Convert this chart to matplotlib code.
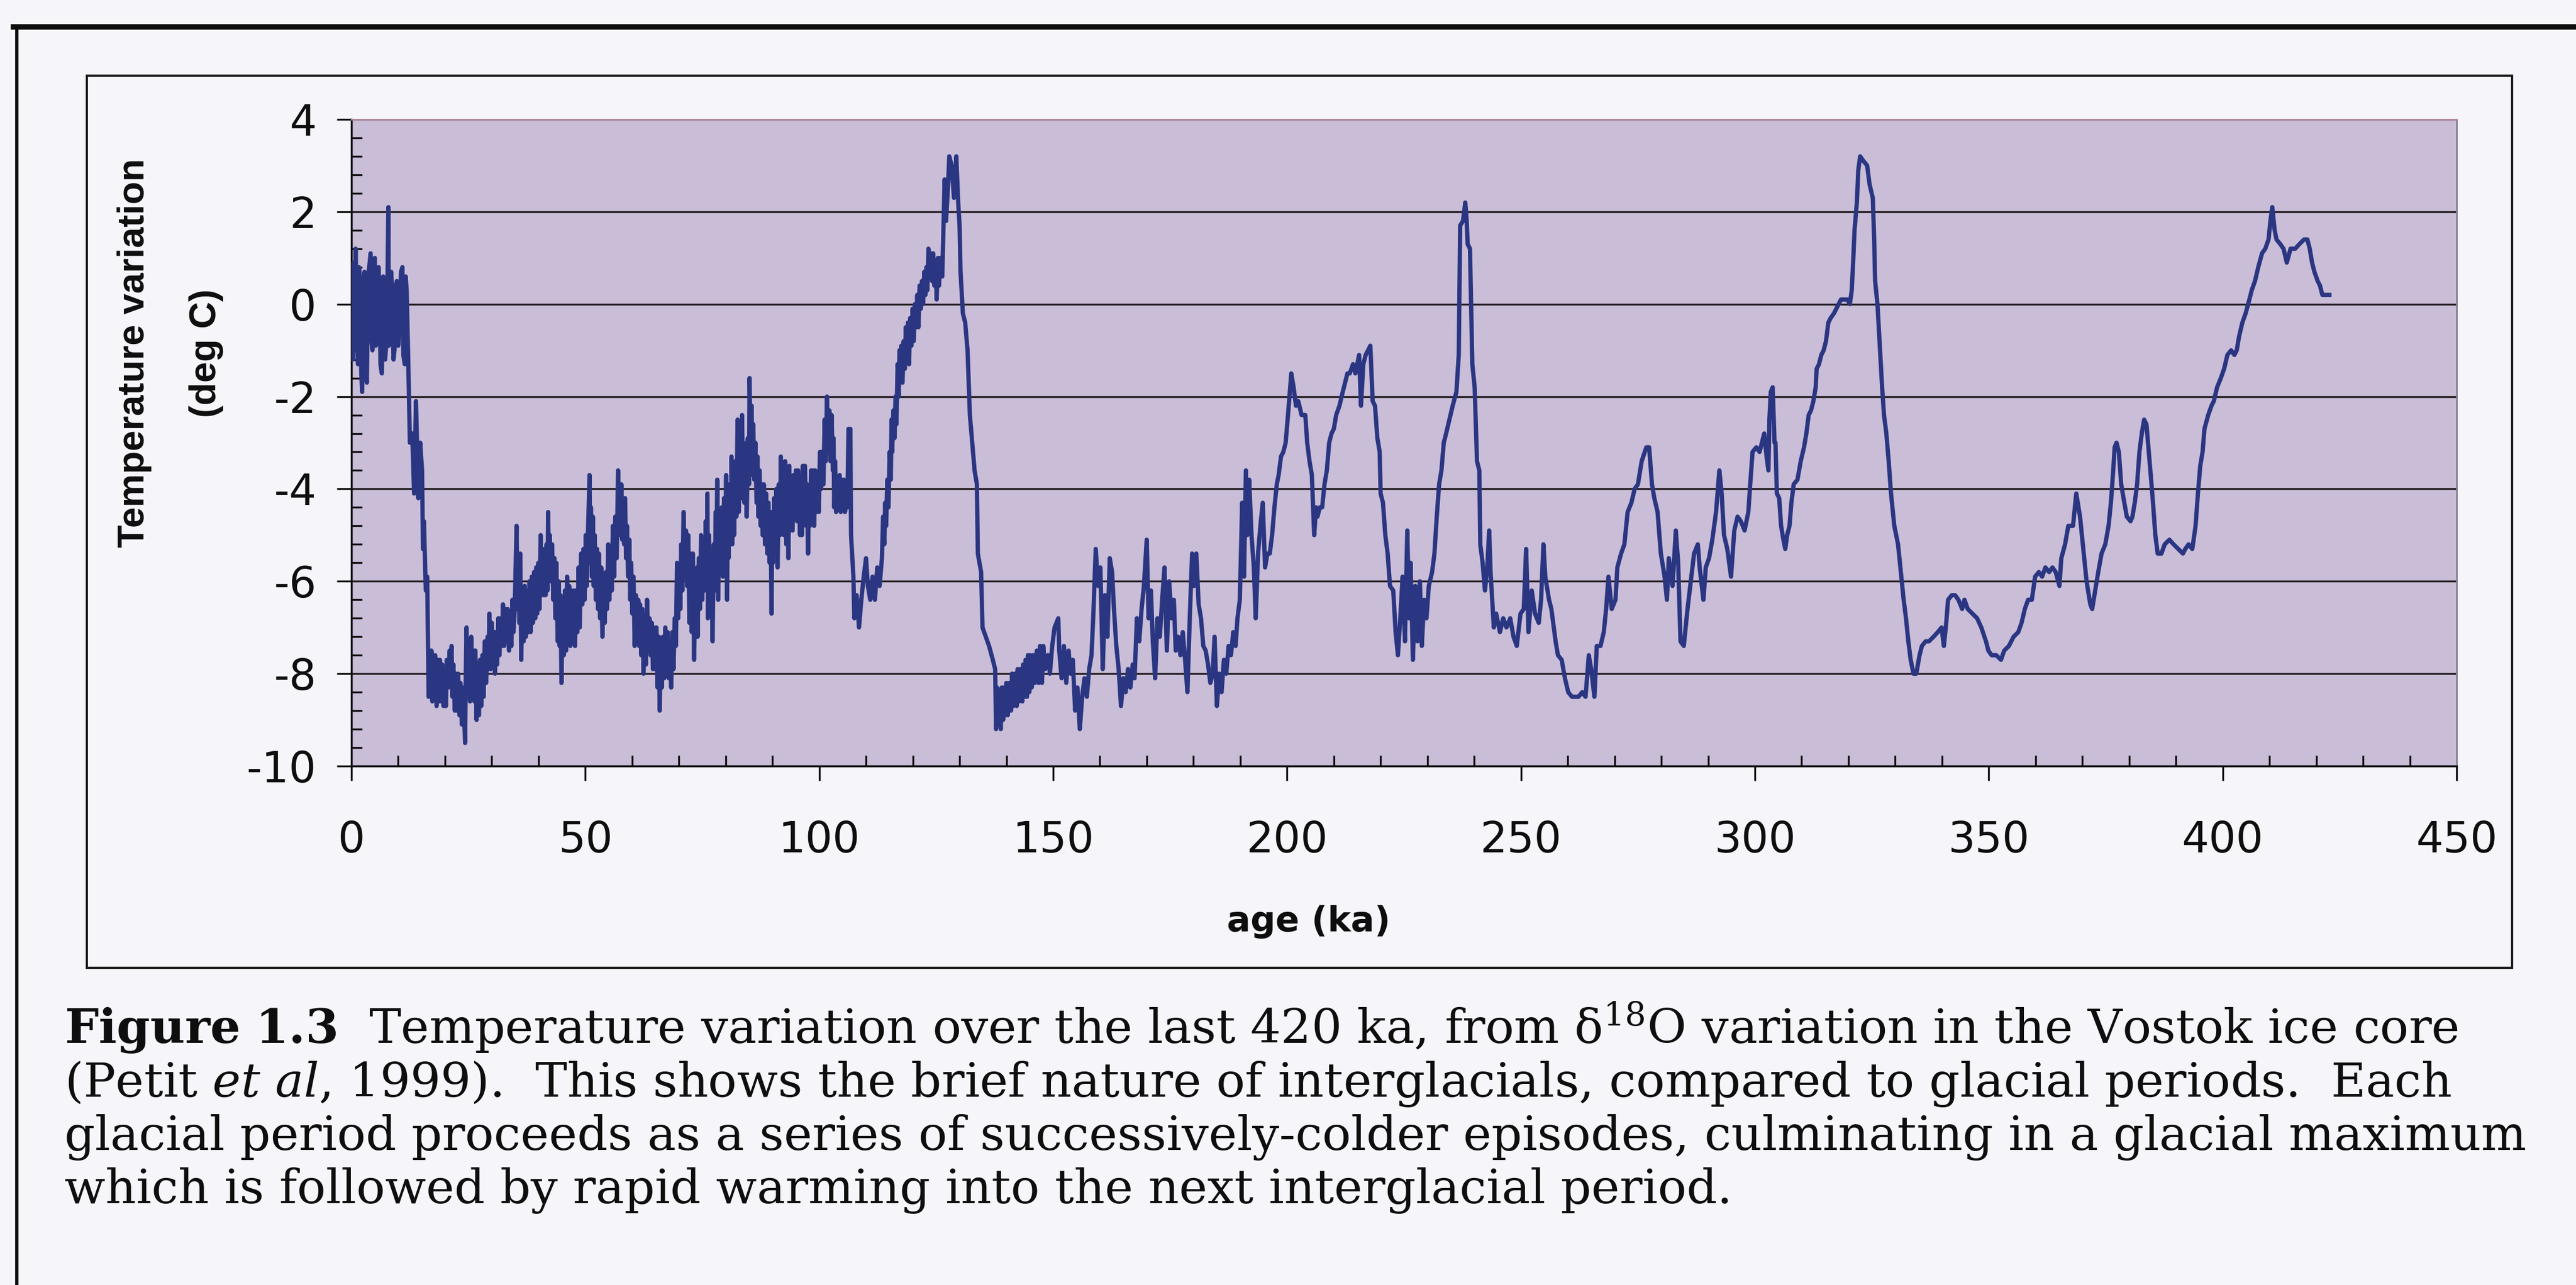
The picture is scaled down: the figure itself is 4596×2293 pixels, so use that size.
import matplotlib
matplotlib.use("Agg")
import matplotlib.pyplot as plt
from matplotlib.ticker import MultipleLocator
from matplotlib.patches import Rectangle
from matplotlib.lines import Line2D

# ---------------------------------------------------------------------------
# Vostok temperature record (age in ka, temperature anomaly in deg C)
# ---------------------------------------------------------------------------
seg_000_074 = [
    (0.1, 0.3), (0.3, -1.2), (0.5, 0.9), (0.7, -1.0), (0.9, 1.2), (1.1, -0.4), (1.4, -1.3), (1.6, 0.8),
    (1.9, 0.5), (2.1, -1.5), (2.3, -1.9), (2.5, 0.2), (2.8, 0.7), (3.0, -1.1), (3.3, -1.7), (3.6, 0.6),
    (4.1, 1.1), (4.3, -0.8), (4.5, -1.0), (4.8, 0.9), (5.0, 1.0), (5.2, -0.9), (5.5, -0.6), (5.8, 0.8),
    (6.0, 0.3), (6.2, -1.3), (6.5, -1.5), (6.8, 0.6), (7.0, 0.5), (7.2, -1.2), (7.5, -0.8), (7.7, 0.4),
    (7.9, 2.1), (8.0, -0.9), (8.2, -0.6), (8.5, 0.7), (8.7, 0.3), (9.0, -1.2), (9.2, -1.0), (9.5, 0.4),
    (9.7, 0.5), (10.0, -0.9), (10.2, -0.6), (10.6, 0.7), (10.9, 0.8), (11.1, -1.1), (11.4, -1.3),
    (11.6, 0.6), (11.8, 0.3), (12.1, -1.0),
    (12.5, -3.0), (13.0, -2.8), (13.4, -4.1), (13.8, -2.1), (14.3, -4.2), (14.7, -3.0), (15.1, -3.6),
    (15.3, -5.3), (15.5, -4.7), (15.9, -6.2), (16.2, -5.9),
    (16.5, -8.5), (16.7, -7.6), (16.9, -8.4), (17.1, -7.5), (17.3, -8.6), (17.5, -7.7), (17.7, -8.5),
    (17.9, -7.6), (18.2, -8.7), (18.4, -7.7), (18.7, -8.6), (18.9, -7.7), (19.2, -8.6), (19.4, -7.8),
    (19.7, -8.7), (19.9, -7.9), (20.2, -8.7), (20.4, -7.7), (20.7, -8.3), (21.0, -7.5), (21.2, -8.2),
    (21.4, -7.4), (21.6, -8.5), (21.8, -7.8), (22.1, -8.8), (22.3, -8.0), (22.6, -8.8), (22.8, -8.0),
    (23.1, -8.9), (23.3, -8.2), (23.6, -9.1), (23.8, -8.3), (24.1, -8.9), (24.3, -9.5), (24.45, -8.0),
    (24.6, -7.0), (24.85, -8.2), (25.1, -7.3), (25.35, -8.6), (25.6, -7.2), (25.85, -8.4), (26.1, -7.5),
    (26.3, -8.6), (26.5, -7.5), (26.75, -9.0), (27.0, -7.9), (27.25, -8.9), (27.5, -7.7), (27.75, -8.7),
    (28.0, -7.6), (28.25, -8.5), (28.5, -7.3), (28.8, -8.2), (29.1, -7.2), (29.3, -7.9), (29.5, -6.7),
    (29.75, -7.9), (30.0, -6.9), (30.25, -7.7), (30.5, -7.1), (30.7, -8.0), (30.9, -7.1), (31.15, -7.8),
    (31.4, -6.8), (31.65, -7.6), (31.9, -6.8), (32.15, -7.4), (32.4, -6.5), (32.65, -7.4), (32.9, -6.6),
    (33.15, -7.3), (33.4, -6.6), (33.7, -7.5), (34.0, -6.7), (34.2, -7.4), (34.4, -6.4), (34.65, -7.1),
    (34.9, -6.6),
    (35.3, -4.8), (35.5, -6.6), (35.7, -5.6), (35.9, -6.9), (36.1, -5.4), (36.3, -7.7), (36.55, -6.2),
    (36.8, -7.3), (37.05, -6.1), (37.3, -7.2), (37.55, -6.2), (37.8, -7.1), (38.05, -6.0), (38.3, -7.1),
    (38.55, -5.9), (38.8, -6.9), (39.05, -5.8), (39.3, -6.8), (39.5, -5.7), (39.7, -6.7), (39.95, -5.6),
    (40.2, -6.6), (40.45, -5.0), (40.7, -6.3), (40.9, -5.3), (41.1, -6.3), (41.3, -5.4), (41.5, -6.3),
    (41.7, -5.2), (41.9, -6.2), (42.05, -4.5), (42.2, -5.8), (42.4, -5.0), (42.6, -6.0), (42.9, -5.2),
    (43.15, -6.4), (43.4, -5.5), (43.6, -6.8), (43.8, -5.6), (44.1, -7.3), (44.3, -6.0), (44.5, -7.4),
    (44.7, -6.3), (44.9, -8.2), (45.15, -6.5), (45.4, -7.6), (45.65, -6.2), (45.9, -7.5), (46.1, -5.9),
    (46.3, -7.2), (46.55, -6.1), (46.8, -7.4), (47.05, -6.2), (47.3, -7.3), (47.55, -6.2), (47.8, -7.4),
    (48.05, -6.2), (48.3, -7.1), (48.55, -5.7), (48.8, -7.0), (49.1, -5.4), (49.35, -6.5), (49.6, -5.3),
    (49.85, -6.4), (50.1, -5.0), (50.3, -6.1), (50.5, -5.2),
    (50.9, -3.7), (51.05, -5.6), (51.2, -4.4), (51.4, -5.9), (51.6, -4.6), (51.8, -6.1), (52.0, -5.0),
    (52.25, -6.4), (52.5, -5.3), (52.7, -6.6), (52.9, -5.4), (53.15, -6.8), (53.4, -5.7), (53.65, -7.2),
    (53.9, -5.9), (54.15, -6.9), (54.4, -5.8), (54.65, -6.6), (54.9, -5.2), (55.15, -6.4), (55.4, -5.3),
    (55.65, -6.2), (55.9, -4.8), (56.15, -5.9), (56.4, -4.6), (56.7, -5.5), (57.0, -3.6), (57.15, -4.9),
    (57.3, -4.1), (57.5, -5.0), (57.7, -3.9), (57.9, -5.1), (58.1, -4.3), (58.3, -5.2), (58.5, -4.2),
    (58.7, -5.5), (58.9, -4.8), (59.15, -5.9), (59.4, -5.1), (59.6, -6.4), (59.8, -5.6), (60.05, -6.7),
    (60.3, -5.9), (60.55, -7.4), (60.8, -6.3), (61.05, -7.3), (61.3, -6.4), (61.5, -7.4), (61.7, -6.5),
    (61.95, -7.6), (62.2, -6.6), (62.45, -8.0), (62.7, -6.9), (62.95, -7.8), (63.2, -6.4), (63.45, -7.5),
    (63.7, -6.8), (63.95, -7.6), (64.2, -6.9), (64.45, -7.9), (64.7, -7.0), (64.95, -7.9), (65.2, -7.0),
    (65.45, -8.3), (65.7, -7.2), (65.9, -8.8), (66.1, -7.4), (66.35, -8.3), (66.6, -7.2), (66.85, -8.1),
    (67.1, -7.0), (67.35, -8.0), (67.6, -7.1), (67.85, -8.1), (68.1, -7.3), (68.35, -8.3), (68.6, -7.1),
    (68.85, -7.9), (69.1, -6.8), (69.35, -7.4), (69.6, -5.6), (69.85, -6.8), (70.1, -5.7), (70.3, -6.6),
    (70.5, -5.2), (70.75, -6.2), (71.0, -4.5), (71.25, -5.9), (71.5, -4.9), (71.75, -6.1), (72.0, -5.0),
    (72.25, -6.9), (72.5, -5.4), (72.75, -7.1), (73.0, -5.4), (73.25, -7.7), (73.5, -5.9), (73.7, -7.2),
    (73.9, -5.7),
]

seg_074_149 = [
    (74.0, -7.2), (74.25, -5.5), (74.5, -6.6), (74.75, -5.0), (75.0, -6.4), (75.25, -5.1), (75.5, -6.2),
    (75.75, -4.7), (76.0, -6.0), (76.1, -4.1), (76.2, -6.8), (76.45, -5.0), (76.7, -6.6), (76.95, -5.4),
    (77.2, -7.3), (77.45, -5.2), (77.7, -6.2), (77.85, -4.5), (78.0, -5.7), (78.2, -3.8), (78.4, -6.4),
    (78.65, -4.5), (78.9, -5.8), (79.15, -4.4), (79.4, -5.9), (79.65, -4.2), (79.9, -5.5), (80.1, -3.7),
    (80.3, -6.4), (80.45, -4.3), (80.6, -5.5), (80.85, -3.9), (81.1, -5.2), (81.25, -3.3), (81.4, -5.2),
    (81.6, -3.9), (81.8, -5.0), (82.05, -3.4), (82.3, -4.6), (82.55, -2.5), (82.8, -4.5), (83.05, -3.0),
    (83.3, -4.2), (83.5, -2.4), (83.7, -3.9), (83.85, -3.0), (84.0, -4.3), (84.25, -3.2), (84.5, -4.6),
    (84.75, -2.9), (85.0, -3.9), (85.1, -1.6), (85.4, -3.7), (85.55, -2.2), (85.7, -3.6), (85.9, -2.6),
    (86.1, -3.8), (86.35, -3.0), (86.6, -4.3), (86.8, -3.3), (87.0, -4.6), (87.25, -3.6), (87.5, -4.8),
    (87.7, -3.9), (87.9, -5.0), (88.15, -3.9), (88.4, -5.2), (88.65, -4.1), (88.9, -5.4), (89.15, -4.3),
    (89.4, -5.6), (89.6, -4.5), (89.8, -6.7), (89.95, -4.9), (90.1, -5.6), (90.35, -4.2), (90.6, -5.3),
    (90.85, -4.0), (91.1, -5.7), (91.35, -3.9), (91.6, -5.0), (91.8, -3.3), (92.0, -4.9), (92.2, -3.8),
    (92.45, -5.0), (92.7, -3.4), (92.95, -5.2), (93.2, -3.7), (93.4, -5.5), (93.6, -3.5), (93.85, -4.9),
    (94.1, -3.8), (94.3, -4.9), (94.5, -3.7), (94.75, -4.6), (95.0, -3.6), (95.25, -4.7), (95.5, -3.6),
    (95.9, -5.0), (96.1, -3.7), (96.3, -5.0), (96.5, -3.5), (96.7, -4.6), (96.95, -3.5), (97.2, -4.8),
    (97.4, -3.9), (97.6, -5.4), (97.8, -4.0), (98.0, -4.8), (98.25, -3.6), (98.5, -4.6), (98.7, -3.6),
    (98.9, -4.8), (99.15, -3.6), (99.4, -4.5), (99.65, -3.8), (99.9, -4.5), (100.15, -3.2), (100.4, -4.0),
    (100.65, -3.2), (100.9, -3.9), (101.15, -2.5), (101.4, -3.4), (101.65, -2.0), (101.9, -3.1),
    (102.15, -2.3), (102.4, -3.4), (102.65, -2.4), (102.9, -3.6), (103.05, -2.9), (103.2, -4.4),
    (103.4, -3.4), (103.6, -4.5), (103.85, -3.8), (104.1, -4.4), (104.35, -3.7), (104.6, -4.5),
    (104.85, -3.8), (105.1, -4.4), (105.3, -3.8), (105.5, -4.5), (105.75, -3.9), (106.0, -4.4),
    (106.25, -2.7), (106.5, -3.8), (106.65, -2.7), (106.8, -5.0),
    (107.3, -5.9), (107.5, -6.8), (108.0, -6.3), (108.5, -7.0), (109.0, -6.4), (109.5, -5.9), (110.0, -5.5),
    (110.4, -6.1), (110.9, -6.4), (111.4, -5.9), (111.9, -6.4), (112.4, -5.7), (112.9, -6.1),
    (113.4, -5.5), (113.65, -4.6), (113.9, -5.2), (114.1, -4.3), (114.3, -4.8), (114.55, -3.8), (114.8, -4.4),
    (115.05, -3.2), (115.3, -3.8), (115.45, -2.5), (115.6, -3.2), (115.85, -2.3), (116.1, -2.9),
    (116.3, -2.0), (116.5, -2.6), (116.75, -1.3), (117.0, -2.0), (117.15, -1.0), (117.3, -1.6),
    (117.55, -0.9), (117.8, -1.7), (118.05, -0.8), (118.3, -1.4), (118.5, -0.5), (118.7, -1.2),
    (118.95, -0.4), (119.2, -1.3), (119.45, -0.3), (119.7, -0.9), (119.95, -0.1), (120.2, -0.8),
    (120.45, 0.0), (120.7, -0.5), (120.95, 0.2), (121.2, -0.5), (121.45, 0.4), (121.7, -0.1), (121.95, 0.5),
    (122.2, 0.0), (122.45, 0.7), (122.7, 0.2), (122.9, 0.8), (123.1, 0.3), (123.35, 1.2), (123.6, 0.6),
    (123.85, 1.1), (124.1, 0.5), (124.35, 1.1), (124.6, 0.4), (124.85, 0.9), (125.1, 0.1), (125.35, 1.0),
    (125.6, 0.4), (125.95, 1.0), (126.3, 0.6),
    (126.8, 2.7), (127.1, 1.8), (127.5, 2.5), (127.8, 3.2), (128.3, 3.0),
    (128.8, 2.3), (129.3, 3.2), (129.7, 2.2), (130.0, 1.7), (130.2, 0.7), (130.7, -0.2), (131.2, -0.4),
    (131.7, -1.0), (132.2, -2.4), (132.7, -3.0), (133.2, -3.6), (133.7, -3.9), (133.9, -5.4), (134.6, -5.8),
    (134.9, -7.0), (135.6, -7.2), (136.3, -7.4), (137.1, -7.7), (137.6, -7.9),
    (137.8, -9.2), (138.0, -8.3), (138.3, -9.1), (138.5, -8.4), (138.8, -9.2), (139.0, -8.3), (139.3, -9.0),
    (139.5, -8.3), (139.8, -8.9), (140.0, -8.2), (140.3, -8.9), (140.6, -8.2), (141.0, -8.8), (141.2, -8.0),
    (141.5, -8.7), (141.8, -8.0), (142.2, -8.7), (142.4, -7.9), (142.7, -8.6), (143.0, -7.9), (143.4, -8.6),
    (143.6, -7.8), (143.9, -8.5), (144.1, -7.7), (144.4, -8.5), (144.6, -7.6), (144.9, -8.4), (145.1, -7.6),
    (145.4, -8.3), (145.7, -7.6), (146.1, -8.2), (146.5, -7.5), (146.9, -8.2), (147.2, -7.4), (147.6, -8.2),
    (147.9, -7.4), (148.3, -7.9),
]

seg_149_223 = [
    (148.9, -7.6), (149.3, -8.0), (149.8, -7.4), (150.3, -7.0), (151.1, -6.8), (151.3, -7.5), (151.8, -8.1),
    (152.3, -7.4), (152.8, -8.2), (153.3, -7.5), (153.7, -8.0), (154.2, -7.7), (154.7, -8.8), (155.2, -8.3),
    (155.7, -9.2), (156.2, -8.5), (156.7, -8.1), (157.2, -8.5), (157.7, -7.9), (158.2, -7.6), (158.6, -6.7),
    (159.1, -5.3), (159.6, -6.1), (160.1, -5.7), (160.6, -7.9), (161.1, -6.3), (161.6, -7.2), (162.1, -5.5),
    (162.6, -5.8), (163.0, -6.6), (163.5, -7.4), (164.0, -7.9), (164.5, -8.7), (165.0, -8.1), (165.5, -8.4),
    (166.0, -7.9), (166.5, -8.3), (167.0, -7.8), (167.4, -8.1), (167.9, -6.8), (168.4, -7.3), (168.9, -6.6),
    (169.4, -6.1), (170.0, -5.1), (170.4, -6.8), (170.9, -6.2), (171.3, -7.3), (171.8, -8.1), (172.3, -6.8),
    (172.8, -7.2), (173.3, -6.4), (173.8, -5.7), (174.3, -7.5), (174.8, -6.0), (175.3, -6.8), (175.8, -6.4),
    (176.2, -7.5), (176.7, -7.2), (177.2, -7.6), (177.7, -7.1), (178.2, -7.7), (178.7, -8.4), (179.2, -6.8),
    (179.7, -5.4), (180.1, -6.1), (180.6, -5.4), (181.1, -6.5), (181.6, -6.8), (182.1, -7.4), (182.6, -7.5),
    (183.1, -7.8), (183.6, -8.2), (184.1, -8.0), (184.5, -7.2), (185.0, -8.7), (185.5, -8.0), (186.0, -8.4),
    (186.5, -7.7), (187.0, -8.0), (187.5, -7.4), (188.0, -7.6), (188.5, -7.1), (189.0, -7.4), (189.4, -6.8),
    (189.9, -6.4), (190.4, -4.3), (190.8, -5.9), (191.2, -3.6), (191.5, -5.0), (191.9, -3.8), (192.4, -5.0),
    (192.9, -5.7), (193.3, -6.8), (193.8, -5.4), (194.3, -4.8), (194.8, -4.3), (195.3, -5.7), (195.8, -5.4),
    (196.3, -5.4), (196.8, -5.0), (197.3, -4.4), (197.8, -3.9), (198.2, -3.7), (198.7, -3.3), (199.2, -3.2),
    (199.7, -3.0), (200.2, -2.4), (200.9, -1.5), (201.4, -1.8), (201.9, -2.2), (202.4, -2.1), (203.1, -2.4),
    (203.9, -2.4), (204.3, -3.0), (204.8, -3.4), (205.3, -3.7), (205.8, -5.0), (206.2, -4.4), (206.5, -4.6),
    (207.0, -4.4), (207.5, -4.4), (208.0, -3.9), (208.5, -3.6), (209.0, -3.0), (209.5, -2.8), (210.0, -2.7),
    (210.5, -2.4), (211.2, -2.2), (211.9, -1.9), (212.4, -1.7), (212.9, -1.5), (213.4, -1.5), (214.1, -1.3),
    (214.6, -1.5), (215.4, -1.1), (215.8, -2.2), (216.3, -1.3), (216.8, -1.1), (217.3, -1.0), (217.8, -0.9),
    (218.3, -2.1), (218.8, -2.2), (219.3, -2.9), (219.8, -3.2), (220.0, -4.1), (220.5, -4.3), (221.0, -5.0),
    (221.5, -5.4), (222.0, -6.1), (222.7, -6.2), (223.2, -7.1),
]

seg_223_298 = [
    (223.7, -7.6), (224.2, -6.8), (224.7, -5.9), (225.2, -7.3), (225.7, -4.9), (226.1, -6.8), (226.4, -5.6),
    (226.9, -7.7), (227.4, -6.1), (227.9, -7.3), (228.4, -6.0), (228.8, -7.4), (229.3, -6.4), (229.8, -6.8),
    (230.3, -6.1), (231.0, -5.8), (231.5, -5.4), (232.0, -4.6), (232.5, -3.9), (233.0, -3.6), (233.5, -3.0),
    (234.0, -2.8), (234.7, -2.5), (235.4, -2.2), (236.2, -1.9), (236.7, -1.1), (237.0, 1.7), (237.6, 1.8),
    (238.1, 2.2), (238.4, 1.8), (238.6, 1.3), (239.1, 1.2), (239.6, -1.3), (240.1, -1.8), (240.6, -3.4),
    (241.1, -3.6), (241.3, -5.2), (241.8, -5.6), (242.3, -6.2), (242.8, -5.7), (243.2, -4.9), (243.5, -5.8),
    (244.2, -7.0), (244.7, -6.7), (245.5, -7.1), (246.2, -6.8), (246.9, -7.0), (247.7, -6.8), (248.4, -7.2),
    (249.1, -7.4), (249.9, -6.7), (250.6, -6.6), (251.1, -5.3), (251.6, -7.1), (252.3, -6.2), (253.0, -6.7),
    (253.8, -6.9), (254.3, -6.4), (254.8, -5.2), (255.2, -5.9), (256.0, -6.4), (256.5, -6.6), (257.4, -7.3),
    (257.9, -7.6), (258.7, -7.7), (259.4, -8.1), (260.1, -8.4), (260.9, -8.5), (261.6, -8.5), (262.3, -8.5),
    (263.1, -8.4), (263.8, -8.5), (264.5, -7.6), (265.0, -7.9), (265.7, -8.5), (266.2, -7.4), (267.0, -7.4),
    (267.7, -7.1), (268.2, -6.6), (268.7, -5.9), (269.4, -6.6), (270.2, -6.4), (270.6, -5.7), (271.4, -5.4),
    (272.1, -5.2), (272.8, -4.5), (273.6, -4.3), (274.3, -4.0), (275.0, -3.9), (275.8, -3.4), (276.8, -3.1),
    (277.4, -3.1), (278.0, -3.9), (278.5, -4.2), (279.2, -4.5), (279.9, -5.4), (280.7, -5.9), (281.2, -6.4),
    (281.6, -5.5), (282.4, -6.1), (283.1, -4.9), (283.6, -5.6), (284.1, -7.3), (284.8, -7.4), (285.6, -6.6),
    (286.3, -6.0), (287.0, -5.4), (287.8, -5.2), (288.2, -5.7), (289.0, -6.4), (289.5, -5.7), (290.2, -5.5),
    (290.9, -5.1), (291.7, -4.5), (292.4, -3.6), (292.9, -4.1), (293.4, -5.0), (294.1, -5.3), (294.9, -5.9),
    (295.6, -4.9), (296.3, -4.6), (297.0, -4.7), (297.8, -4.9),
]

seg_298_373 = [
    (298.6, -4.5), (299.0, -3.9), (299.5, -3.2), (300.3, -3.1), (301.0, -3.2), (301.5, -3.0), (302.0, -2.8),
    (302.5, -3.3), (302.9, -3.6), (303.1, -2.5), (303.4, -1.9), (303.8, -1.8), (304.2, -3.0), (304.4, -3.0),
    (304.7, -4.1), (305.2, -4.2), (305.6, -4.8), (306.1, -5.1), (306.5, -5.3), (306.9, -5.0), (307.4, -4.8),
    (307.8, -4.3), (308.3, -3.9), (309.1, -3.8), (309.8, -3.4), (310.5, -3.1), (311.0, -2.8), (311.5, -2.4),
    (312.0, -2.3), (312.5, -2.1), (313.0, -1.8), (313.2, -1.4), (313.7, -1.3), (314.2, -1.1), (314.7, -1.0),
    (315.2, -0.8), (315.7, -0.4), (316.2, -0.3), (316.9, -0.2), (317.4, -0.1), (317.9, 0.0), (318.4, 0.1),
    (319.1, 0.1), (319.8, 0.1), (320.3, 0.0), (320.7, 0.3), (321.0, 0.9), (321.3, 1.6), (321.8, 2.2),
    (322.1, 2.9), (322.5, 3.2), (323.2, 3.1), (324.0, 3.0), (324.5, 2.6), (325.2, 2.3), (325.5, 1.4),
    (325.7, 0.5), (326.2, 0.0), (326.7, -0.9), (327.2, -1.8), (327.6, -2.4), (328.1, -2.8), (328.6, -3.4),
    (329.1, -4.1), (329.8, -4.8), (330.6, -5.2), (331.3, -5.9), (331.8, -6.4), (332.3, -6.8), (332.8, -7.3),
    (333.3, -7.7), (333.9, -8.0), (334.5, -8.0), (335.2, -7.6), (335.7, -7.4), (336.5, -7.3), (337.2, -7.3),
    (338.2, -7.2), (339.1, -7.1), (339.9, -7.0), (340.4, -7.4), (340.9, -6.9), (341.3, -6.4), (342.1, -6.3),
    (342.8, -6.3), (343.5, -6.4), (344.3, -6.6), (344.8, -6.4), (345.5, -6.6), (346.5, -6.7), (347.5, -6.8),
    (348.4, -7.0), (349.4, -7.3), (349.9, -7.5), (350.6, -7.6), (351.6, -7.6), (352.6, -7.7), (353.3, -7.5),
    (354.3, -7.4), (355.3, -7.2), (356.3, -7.1), (357.0, -6.9), (357.7, -6.6), (358.4, -6.4), (359.2, -6.4),
    (359.9, -5.9), (360.7, -5.8), (361.4, -5.9), (362.1, -5.7), (362.9, -5.8), (363.6, -5.7), (364.3, -5.8),
    (365.1, -6.1), (365.5, -5.5), (366.3, -5.2), (367.0, -4.8), (368.0, -4.8), (368.7, -4.1), (369.5, -4.6),
    (370.2, -5.3), (370.9, -6.0), (371.7, -6.5), (372.1, -6.6), (372.9, -6.1),
]

seg_373_423 = [
    (373.4, -5.8), (374.1, -5.4), (374.9, -5.2), (375.6, -4.8), (376.1, -4.3), (376.6, -3.6), (376.9, -3.1),
    (377.3, -3.0), (377.8, -3.2), (378.3, -3.9), (378.8, -4.2), (379.5, -4.6), (380.3, -4.7), (380.7, -4.6),
    (381.2, -4.3), (381.7, -3.9), (382.2, -3.2), (382.7, -2.8), (383.2, -2.5), (383.7, -2.6), (384.2, -3.2),
    (384.7, -3.8), (385.1, -4.3), (385.6, -5.0), (386.1, -5.4), (386.9, -5.4), (387.6, -5.2), (388.6, -5.1),
    (389.5, -5.2), (390.5, -5.3), (391.5, -5.4), (392.0, -5.3), (392.7, -5.2), (393.5, -5.3), (394.2, -4.8),
    (394.7, -4.1), (395.2, -3.5), (395.7, -3.2), (396.1, -2.7), (396.9, -2.4), (397.6, -2.2), (398.1, -2.1),
    (398.8, -1.8), (399.6, -1.6), (400.3, -1.4), (401.0, -1.1), (401.8, -1.0), (402.5, -1.1), (403.0, -1.0),
    (403.5, -0.7), (404.2, -0.4), (404.9, -0.2), (405.7, 0.1), (406.2, 0.3), (406.9, 0.5), (407.6, 0.8),
    (408.4, 1.1), (409.1, 1.2), (409.8, 1.4), (410.2, 1.8), (410.6, 2.1), (411.1, 1.6), (411.5, 1.4),
    (412.3, 1.3), (413.0, 1.2), (413.7, 0.9), (414.5, 1.2), (415.5, 1.2), (416.4, 1.3), (417.4, 1.4),
    (418.1, 1.4), (418.6, 1.2), (419.1, 0.9), (419.6, 0.7), (420.3, 0.5), (420.8, 0.4), (421.3, 0.2),
    (422.1, 0.2), (422.8, 0.2),
]

x_ticks = [0, 50, 100, 150, 200, 250, 300, 350, 400, 450]
y_ticks = [-10, -8, -6, -4, -2, 0, 2, 4]

y_title = ["Temperature variation", "(deg C)"]
x_title = "age (ka)"

caption_lines = [
    r"$\mathbf{Figure\ 1.3}$  Temperature variation over the last 420 ka, from "
    r"$\mathrm{\delta}^{\mathrm{18}}$O variation in the Vostok ice core",
    r"(Petit $\mathit{et\ al}$, 1999).  This shows the brief nature of interglacials, "
    r"compared to glacial periods.  Each",
    "glacial period proceeds as a series of successively-colder episodes, "
    "culminating in a glacial maximum",
    "which is followed by rapid warming into the next interglacial period.",
]

# ---------------------------------------------------------------------------
W, H, DPI = 4596, 2293, 100
PAGE = "#f6f6fa"
PLOT_BG = "#c9bdd7"
LINE = "#2b3682"
INK = "#0e0e0e"
SERIF = "DejaVu Serif"

plt.rcParams["font.family"] = ["DejaVu Sans"]
plt.rcParams["axes.unicode_minus"] = False
plt.rcParams["mathtext.fontset"] = "custom"
plt.rcParams["mathtext.rm"] = SERIF
plt.rcParams["mathtext.it"] = SERIF + ":italic"
plt.rcParams["mathtext.bf"] = SERIF + ":bold"

fig = plt.figure(figsize=(W / DPI, H / DPI), dpi=DPI)
fig.patch.set_facecolor(PAGE)


def fx(px):
    return px / W


def fy(py):
    return 1 - py / H


# page frame around the figure block
fig.add_artist(Line2D([fx(24), 1.0], [fy(48), fy(48)], color=INK, lw=7.0))
fig.add_artist(Line2D([fx(30), fx(30)], [0.0, fy(48)], color=INK, lw=4.2))
# chart-area border
fig.add_artist(Rectangle((fx(155), fy(1727)), fx(4482) - fx(155), fy(135) - fy(1727),
                         fill=False, ec="#1a1a1a", lw=2.8))

ax = fig.add_axes([fx(627), fy(1367), fx(4383) - fx(627), fy(213) - fy(1367)])
ax.set_facecolor(PLOT_BG)

segments = [seg_000_074, seg_074_149, seg_149_223, seg_223_298, seg_298_373, seg_373_423]
age = [a for seg in segments for a, _ in seg]
temp = [t for seg in segments for _, t in seg]
ax.plot(age, temp, color=LINE, lw=5.5, solid_joinstyle="round", zorder=3)

ax.set_xlim(0, 450)
ax.set_ylim(-10, 4)
ax.set_xticks(x_ticks)
ax.set_yticks(y_ticks)
ax.xaxis.set_minor_locator(MultipleLocator(10))
ax.yaxis.set_minor_locator(MultipleLocator(0.4))
ax.set_xticklabels([str(v) for v in x_ticks])
ax.set_yticklabels([str(v) for v in y_ticks])

ax.yaxis.grid(True, color="#231d20", lw=2.4)
ax.set_axisbelow(True)

for side in ("left", "bottom"):
    ax.spines[side].set_color(INK)
    ax.spines[side].set_linewidth(2.5)
ax.spines["top"].set_color("#b3869f")
ax.spines["top"].set_linewidth(2.2)
ax.spines["right"].set_color("#8a7f93")
ax.spines["right"].set_linewidth(2.2)

ax.tick_params(which="major", direction="out", length=19, width=2.4, labelsize=55,
               colors=INK)
ax.tick_params(which="minor", direction="in", length=14, width=2.4, colors=INK)
ax.tick_params(axis="y", which="major", pad=26)
ax.tick_params(axis="x", which="major", pad=50)

# axis titles
fig.text(fx(240), fy(630), y_title[0], rotation=90, ha="center", va="center",
         fontsize=48, fontweight="bold", family="Liberation Sans", color=INK)
fig.text(fx(368), fy(630), y_title[1], rotation=90, ha="center", va="center",
         fontsize=48, fontweight="bold", family="Liberation Sans", color=INK)
fig.text(fx(2335), fy(1645), x_title, ha="center", va="center",
         fontsize=45, fontweight="bold", color=INK)

# caption: size chosen so the longest line spans the text block
renderer = fig.canvas.get_renderer()
probe = fig.text(0, 0, caption_lines[2], family=SERIF, fontsize=60)
probe_w = probe.get_window_extent(renderer).width
probe.remove()
cap_size = 60 * (4505 - 115) / probe_w

baselines = [1862, 1957, 2052, 2147]
for line, base in zip(caption_lines, baselines):
    fig.text(fx(115), fy(base), line, family=SERIF, fontsize=cap_size,
             ha="left", va="baseline", color=INK)

fig.savefig("out.png", dpi=DPI, facecolor=PAGE)
